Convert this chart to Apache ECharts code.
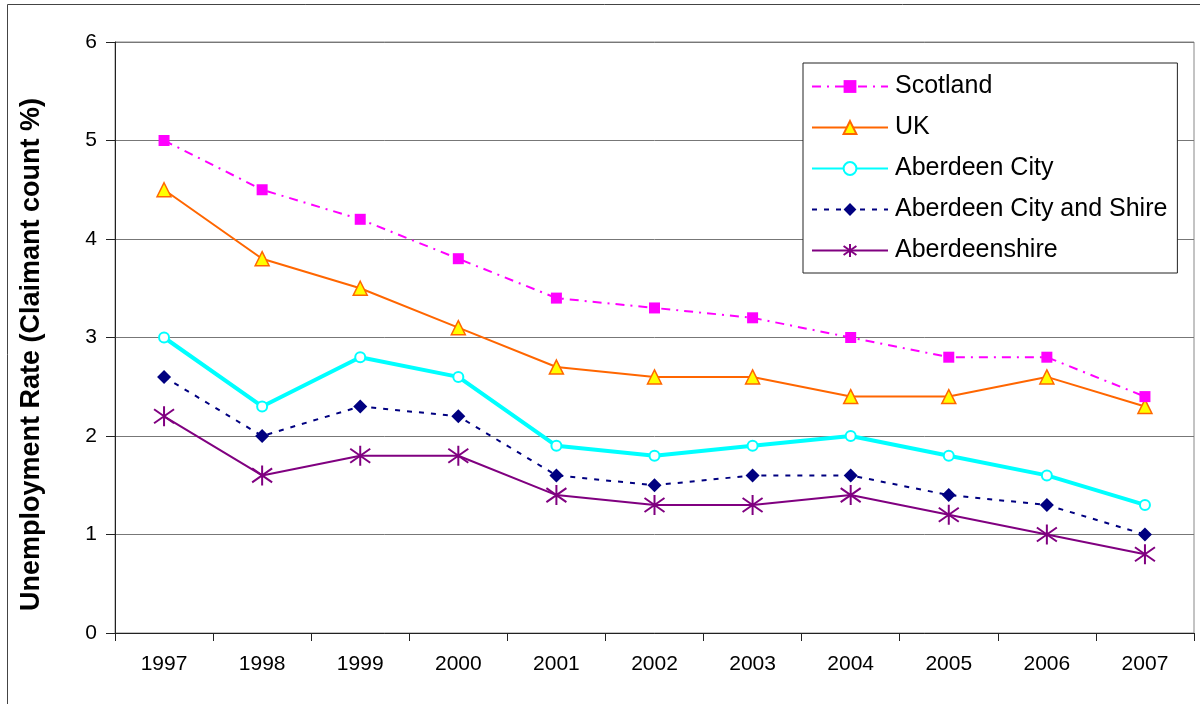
<!doctype html>
<html>
<head>
    <meta charset="utf-8">
    <title>Unemployment Rate</title>
    <script src="https://cdn.jsdelivr.net/npm/echarts@6/dist/echarts.min.js"></script>
    <style>
        html, body { margin: 0; padding: 0; background: #fff; }
        #main { width: 1200px; height: 704px; }
    </style>
</head>
<body>
<div id="main"></div>
<script type="text/javascript">
    // data
    var years = ['1997', '1998', '1999', '2000', '2001', '2002', '2003', '2004', '2005', '2006', '2007'];
    var scotland = [5.0, 4.5, 4.2, 3.8, 3.4, 3.3, 3.2, 3.0, 2.8, 2.8, 2.4];
    var uk = [4.5, 3.8, 3.5, 3.1, 2.7, 2.6, 2.6, 2.4, 2.4, 2.6, 2.3];
    var aberdeenCity = [3.0, 2.3, 2.8, 2.6, 1.9, 1.8, 1.9, 2.0, 1.8, 1.6, 1.3];
    var cityAndShire = [2.6, 2.0, 2.3, 2.2, 1.6, 1.5, 1.6, 1.6, 1.4, 1.3, 1.0];
    var aberdeenshire = [2.2, 1.6, 1.8, 1.8, 1.4, 1.3, 1.3, 1.4, 1.2, 1.0, 0.8];

    var font = 'Liberation Sans, Arial, sans-serif';
    var asterisk = 'path://M10,0L10,20M0,3L20,17M0,17L20,3';

    var myChart = echarts.init(document.getElementById('main'));
    var option = {
        animation: false,
        textStyle: { fontFamily: font },
        graphic: [{
            type: 'rect',
            shape: { x: 7.5, y: 4.5, width: 1200, height: 710 },
            style: { fill: 'none', stroke: '#444', lineWidth: 1 },
            silent: true
        }],
        grid: {
            left: 115, right: 6, top: 42, bottom: 71,
            show: true, borderColor: '#888', borderWidth: 1, backgroundColor: '#fff'
        },
        legend: {
            orient: 'vertical',
            left: 803, top: 63,
            width: 377,
            padding: [11, 10, 10, 8],
            itemGap: 16,
            itemWidth: 76,
            itemHeight: 16,
            borderColor: '#222',
            borderWidth: 1,
            backgroundColor: '#fff',
            textStyle: { fontSize: 25, color: '#000', fontFamily: font, padding: [0, 0, 0, 2] },
            data: ['Scotland', 'UK', 'Aberdeen City', 'Aberdeen City and Shire', 'Aberdeenshire']
        },
        xAxis: {
            type: 'category',
            data: years,
            boundaryGap: true,
            axisLine: { lineStyle: { color: '#222', width: 1 } },
            axisTick: { show: true, length: 8, lineStyle: { color: '#222' } },
            axisLabel: { fontSize: 21, color: '#000', margin: 21 }
        },
        yAxis: {
            type: 'value',
            min: 0, max: 6, interval: 1,
            name: 'Unemployment Rate (Claimant count %)',
            nameLocation: 'middle',
            nameGap: 70,
            nameTextStyle: { fontSize: 27, fontWeight: 'bold', color: '#000', padding: [0, 34, 0, 0] },
            axisLine: { show: true, lineStyle: { color: '#222' } },
            axisTick: { show: true, length: 9, lineStyle: { color: '#222' } },
            axisLabel: { fontSize: 21, color: '#000', margin: 18 },
            splitLine: { show: true, lineStyle: { color: '#777', width: 1 } }
        },
        series: [
            {
                name: 'Scotland', type: 'line', data: scotland,
                symbol: 'rect', symbolSize: 11,
                lineStyle: { color: '#FF00FF', width: 2, type: [9, 6, 2, 6] },
                itemStyle: { color: '#FF00FF', borderColor: '#FF00FF', borderWidth: 0 },
                z: 5
            },
            {
                name: 'UK', type: 'line', data: uk,
                symbol: 'triangle', symbolSize: 14,
                lineStyle: { color: '#FF6600', width: 2 },
                itemStyle: { color: '#FFFF00', borderColor: '#FF6600', borderWidth: 1.5 },
                z: 4
            },
            {
                name: 'Aberdeen City', type: 'line', data: aberdeenCity,
                symbol: 'circle', symbolSize: 10,
                lineStyle: { color: '#00FFFF', width: 4 },
                itemStyle: { color: '#fff', borderColor: '#00FFFF', borderWidth: 2 },
                z: 3
            },
            {
                name: 'Aberdeen City and Shire', type: 'line', data: cityAndShire,
                symbol: 'diamond', symbolSize: 14,
                lineStyle: { color: '#000080', width: 2, type: [5, 7] },
                itemStyle: { color: '#000080', borderWidth: 0 },
                z: 6
            },
            {
                name: 'Aberdeenshire', type: 'line', data: aberdeenshire,
                symbol: asterisk, symbolSize: 20, symbolKeepAspect: true,
                lineStyle: { color: '#800080', width: 2 },
                itemStyle: { color: '#800080', borderColor: '#800080', borderWidth: 2 },
                z: 7
            }
        ]
    };
    myChart.setOption(option);
</script>
</body>
</html>
